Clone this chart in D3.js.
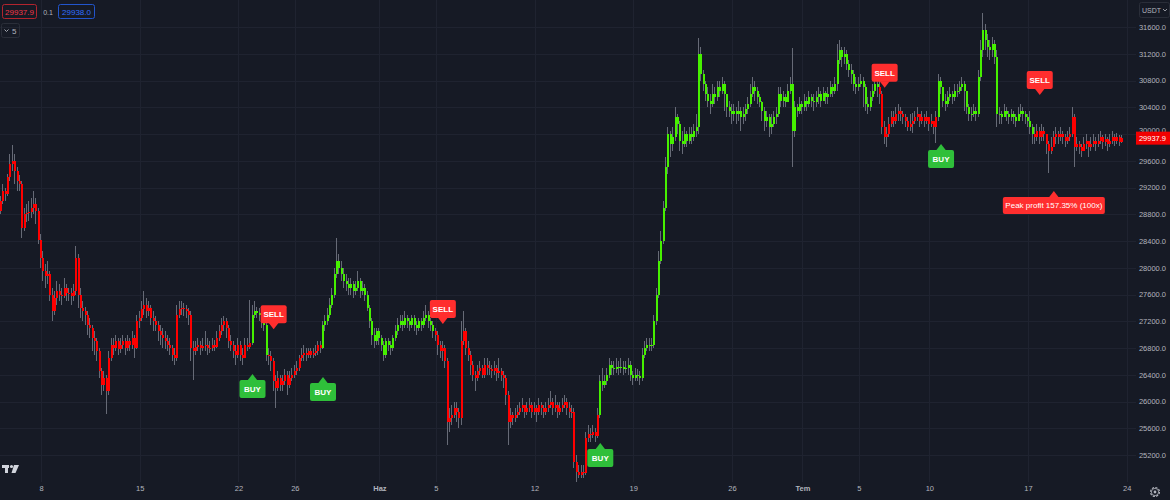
<!DOCTYPE html>
<html><head><meta charset="utf-8">
<script src="https://cdn.jsdelivr.net/npm/d3@7/dist/d3.min.js"></script>
<style>
html,body{margin:0;padding:0;background:#161a25;}
svg{display:block;}
text{font-family:"Liberation Sans","DejaVu Sans",sans-serif;}
</style></head>
<body><svg id="c" width="1170" height="500"></svg>
<script>
// ---------------- DATA (BTC/USDT, 4h candles, first candle 2023-05-05 04:00 UTC) ----------------
const firstOpen = 28850;
const close = [
// May 5
29000,29150,29100,29350,29550,
// May 6
29600,29450,29300,29250,28600,28800,
// May 7
28820,28830,28900,28950,28850,28420,
// May 8
28150,27950,27880,27900,27600,27350,
// May 9
27550,27650,27600,27580,27700,27620,
// May 10
27620,27580,27650,28150,27600,27400,
// May 11
27350,27300,27150,27100,26950,26900,
// May 12
26750,26450,26250,26350,26150,26650,
// May 13
26850,26800,26900,26780,26850,26900,
// May 14
26800,26900,26850,26950,26800,27200,
// May 15
27250,27380,27450,27350,27400,27250,
// May 16
27200,27150,27050,27000,26950,26900,
// May 17
26850,26800,26700,26650,27300,27380,
// May 18
27400,27380,27350,27300,26800,26750,
// May 19
26820,26850,26800,26830,26850,26800,
// May 20
26800,26850,26820,26950,27050,27150,
// May 21
27200,27100,26900,26850,26750,26700,
// May 22
26850,26700,26650,26850,26820,26880,
// May 23
27300,27350,27320,27300,27200,27150,
// May 24
26700,26680,26600,26300,26200,26350,
// May 25
26250,26300,26400,26250,26350,26400,
// May 26
26450,26500,26650,26700,26720,26700,
// May 27
26750,26700,26720,26750,26850,26800,
// May 28
27150,27200,27300,27450,27600,27900,
// May 29
28100,28000,27900,27800,27750,27700,
// May 30
27750,27650,27700,27800,27650,27700,
// May 31
27600,27400,27200,27000,26900,27050,
// Jun 1
26950,26850,26700,26900,26850,26800,
// Jun 2
26950,27050,27150,27200,27150,27250,
// Jun 3
27200,27150,27250,27150,27100,27200,
// Jun 4
27150,27250,27300,27200,27150,27050,
// Jun 5
27000,26850,26750,26800,26600,25700,
// Jun 6
25750,25800,25900,25850,25750,26900,
// Jun 7
27050,26800,26700,26550,26400,26350,
// Jun 8
26450,26500,26400,26550,26500,26480,
// Jun 9
26450,26500,26420,26450,26400,26350,
// Jun 10
26100,25700,25800,25750,25800,25850,
// Jun 11
25900,25950,25850,25900,25950,25850,
// Jun 12
25900,25850,25950,25900,25850,25900,
// Jun 13
25950,26000,25900,25950,25850,25900,
// Jun 14
25950,26000,25900,25850,25850,25100,
// Jun 15
24950,24900,24950,24930,25450,25520,
// Jun 16
25500,25550,25480,25800,26300,26250,
// Jun 17
26300,26400,26550,26500,26480,26520,
// Jun 18
26500,26520,26480,26500,26550,26400,
// Jun 19
26350,26400,26380,26350,26700,26800,
// Jun 20
26850,26830,26850,27200,27600,28100,
// Jun 21
28400,28900,29500,30000,29850,29950,
// Jun 22
30250,30150,29900,29850,30000,29900,
// Jun 23
30000,29950,30050,30100,31200,30900,
// Jun 24
30750,30600,30500,30450,30600,30550,
// Jun 25
30700,30650,30750,30600,30400,30350,
// Jun 26
30300,30350,30300,30350,30250,30300,
// Jun 27
30380,30450,30600,30700,30650,30550,
// Jun 28
30480,30350,30200,30250,30100,30150,
// Jun 29
30250,30300,30600,30500,30550,30480,
// Jun 30
30650,30750,30050,30400,30350,30450,
// Jul 1
30400,30500,30450,30550,30500,30480,
// Jul 2
30550,30600,30500,30620,30550,30600,
// Jul 3
30700,30650,30750,31100,31250,31150,
// Jul 4
31200,31050,30950,30900,30750,30700,
// Jul 5
30750,30800,30700,30450,30400,30550,
// Jul 6
30650,30750,30700,30600,30100,29950,
// Jul 7
30000,30150,30250,30200,30300,30350,
// Jul 8
30300,30250,30200,30100,30150,30200,
// Jul 9
30250,30300,30200,30250,30200,30250,
// Jul 10
30150,30200,30100,30250,30800,30700,
// Jul 11
30500,30450,30550,30600,30550,30650,
// Jul 12
30650,30700,30750,30650,30400,30300,
// Jul 13
30300,30350,30300,30850,31250,31550,
// Jul 14
31400,31300,31250,31350,31150,30300,
// Jul 15
30300,30250,30350,30300,30250,30300,
// Jul 16
30250,30200,30300,30350,30300,30250,
// Jul 17
30200,30100,30000,29950,30050,29950,
// Jul 18
30050,30000,29850,29750,29800,29950,
// Jul 19
30000,29950,30000,29950,29900,29950,
// Jul 20
30000,30250,29800,29850,29800,29750,
// Jul 21
29850,29900,29800,29850,29900,29850,
// Jul 22
29900,29950,29880,29920,29850,29900,
// Jul 23
29950,29900,29950,29880,29937.9
];
const high = [
29080,29250,29200,29400,29700,
29840,29700,29500,29380,29300,28900,
28950,29000,29050,29150,29050,28900,
28500,28250,28050,28100,27950,27700,
27650,27800,27750,27700,27850,27750,
27700,27700,27750,28320,28200,27700,
27500,27420,27350,27250,27150,27050,
26950,26800,26500,26450,26400,26750,
26950,26950,27000,26950,26950,27000,
26950,27000,26950,27050,27000,27300,
27350,27500,27650,27550,27500,27450,
27350,27280,27200,27150,27100,27050,
27000,26950,26850,26800,27450,27500,
27500,27480,27450,27400,27350,26900,
26900,26950,26900,26950,27050,26950,
26900,26950,26920,27050,27150,27250,
27280,27250,27150,27000,26900,26850,
26950,26900,26800,26950,26950,27520,
27450,27500,27420,27400,27350,27300,
27200,26800,26750,26650,26400,26450,
26400,26400,26480,26450,26450,26500,
26550,26600,26700,26800,26850,26800,
26800,26800,26800,26850,26900,26900,
27200,27300,27400,27550,27700,28000,
28450,28200,28100,28000,27900,27850,
27850,27800,27800,27950,27850,27800,
27750,27650,27450,27250,27100,27100,
27100,27000,26900,26950,26950,26900,
27000,27150,27250,27300,27300,27350,
27300,27250,27300,27300,27200,27250,
27250,27350,27450,27350,27250,27200,
27100,27050,26900,26900,26850,26650,
25900,25950,26000,26000,25900,27200,
27350,27100,26900,26750,26600,26450,
26550,26600,26550,26650,26650,26600,
26550,26600,26550,26650,26500,26450,
26400,26150,25900,25850,25900,25950,
26000,26050,25950,26000,26050,26000,
26000,25950,26050,26000,25950,26000,
26050,26150,26050,26100,26000,26000,
26050,26100,26050,26000,25950,25900,
25200,25050,25050,25050,25550,25650,
25600,25650,25600,25900,26400,26500,
26400,26500,26650,26600,26600,26650,
26600,26650,26600,26600,26650,26600,
26450,26500,26480,26450,26800,26900,
26950,26950,26950,27300,27700,28250,
28550,29000,29650,30100,30050,30100,
30400,30300,30200,30050,30100,30050,
30100,30100,30150,30300,31430,31300,
30950,30800,30700,30600,30750,30700,
30800,30800,30850,30800,30600,30500,
30450,30450,30400,30500,30400,30400,
30450,30550,30750,30850,30800,30700,
30600,30500,30400,30350,30300,30300,
30350,30400,30700,30700,30650,30600,
30750,30850,31280,30500,30450,30550,
30500,30600,30550,30650,30600,30600,
30650,30700,30650,30700,30650,30700,
30800,30750,30850,31350,31400,31300,
31300,31250,31100,31050,30950,30850,
30850,30900,30850,30750,30550,30650,
30750,30850,30850,30800,30650,30200,
30100,30250,30350,30350,30400,30450,
30400,30350,30300,30250,30300,30320,
30350,30400,30300,30350,30300,30350,
30250,30300,30200,30350,30900,30850,
30650,30600,30650,30700,30650,30750,
30750,30800,30850,30800,30650,30450,
30400,30450,30400,30950,31400,31810,
31650,31500,31400,31450,31400,31250,
30400,30350,30450,30400,30350,30380,
30350,30300,30400,30450,30400,30350,
30300,30350,30150,30100,30150,30100,
30150,30100,29950,29900,29950,30050,
30100,30050,30100,30050,30000,30050,
30100,30400,30300,29950,29900,29850,
29950,30000,29900,29950,30000,29950,
30000,30050,29980,30000,29950,30000,
30050,30000,30020,29980,29990
];
const low = [
28800,28950,29000,29080,29300,
29450,29250,29150,29150,28450,28550,
28680,28700,28750,28800,28650,28350,
28000,27800,27700,27750,27500,27200,
27300,27450,27500,27450,27550,27500,
27500,27450,27500,27600,27400,27250,
27200,27150,27000,26950,26750,26700,
26600,26350,26100,26150,25820,26100,
26600,26700,26750,26700,26720,26780,
26700,26750,26750,26780,26650,26780,
27100,27200,27300,27250,27280,27150,
27050,27050,26900,26850,26800,26780,
26750,26700,26600,26550,26600,27250,
27300,27280,27250,27150,26600,26320,
26700,26750,26700,26750,26750,26700,
26720,26750,26750,26800,26900,27000,
27050,26950,26800,26750,26650,26550,
26650,26600,26550,26650,26750,26780,
26850,27250,27250,27200,27100,27050,
26600,26550,26450,26150,25900,26150,
26150,26150,26250,26100,26200,26300,
26350,26400,26450,26600,26600,26600,
26650,26650,26650,26680,26700,26720,
26780,27050,27150,27250,27400,27550,
27850,27900,27800,27700,27650,27600,
27600,27550,27600,27650,27550,27600,
27500,27350,27100,26850,26800,26850,
26850,26750,26600,26650,26750,26700,
26750,26900,27000,27100,27050,27100,
27100,27050,27100,27050,27000,27050,
27050,27100,27200,27100,27050,26950,
26900,26700,26650,26600,26500,25350,
25550,25650,25750,25700,25600,25650,
26850,26700,26600,26400,26300,26150,
26300,26400,26350,26350,26400,26400,
26350,26400,26300,26350,26300,26200,
25950,25350,25600,25650,25700,25750,
25800,25850,25750,25800,25850,25750,
25800,25700,25800,25800,25750,25800,
25850,25900,25800,25850,25750,25800,
25850,25900,25800,25750,25750,25000,
24800,24850,24850,24850,24900,25400,
25400,25450,25400,25450,25750,26150,
26200,26250,26350,26400,26400,26420,
26400,26420,26400,26420,26400,26300,
26250,26300,26300,26250,26300,26650,
26750,26750,26750,26800,27150,27550,
28050,28350,28850,29400,29650,29750,
29900,30000,29750,29700,29800,29800,
29850,29850,29900,29950,30000,30800,
30650,30500,30400,30300,30400,30450,
30500,30550,30600,30350,30250,30250,
30150,30200,30150,30200,30050,30150,
30200,30300,30400,30550,30500,30450,
30400,30200,30050,30100,29950,30000,
30100,30150,30250,30400,30400,30400,
30500,30600,29500,29950,30250,30300,
30300,30350,30350,30400,30400,30350,
30400,30450,30400,30500,30450,30450,
30550,30550,30600,30650,31050,31000,
31050,30950,30850,30750,30650,30600,
30650,30700,30400,30350,30300,30350,
30500,30600,30550,30450,30000,29850,
29800,29950,30100,30100,30150,30200,
30200,30150,30100,30050,30050,30020,
30150,30200,30100,30150,30100,30150,
30050,30100,30000,29870,30200,30600,
30400,30350,30400,30500,30450,30500,
30550,30600,30650,30350,30300,30200,
30200,30250,30200,30250,30800,31150,
31250,31150,31100,31150,31050,30100,
30150,30150,30250,30200,30150,30200,
30150,30100,30200,30250,30200,30150,
30100,30000,29850,29850,29900,29850,
29900,29900,29700,29420,29700,29850,
29850,29850,29900,29850,29800,29850,
29900,29950,29500,29750,29700,29650,
29750,29780,29650,29750,29800,29750,
29800,29850,29780,29820,29750,29800,
29850,29820,29850,29820,29860
];
// trend colour flips (first candle of each new trend)
const flipDates = ["2023-05-23T00:00Z","2023-05-24T04:00Z","2023-05-28T00:00Z","2023-06-05T00:00Z","2023-06-16T16:00Z","2023-07-06T12:00Z","2023-07-10T16:00Z","2023-07-17T12:00Z"];
const flipDirs  = ["up","down","up","down","up","down","up","down"];
// signal labels
const sigTypes  = ["BUY","SELL","BUY","SELL","BUY","SELL","BUY","SELL"];
const sigDates  = ["2023-05-23T00:00Z","2023-05-24T12:00Z","2023-05-28T00:00Z","2023-06-05T12:00Z","2023-06-16T16:00Z","2023-07-06T20:00Z","2023-07-10T20:00Z","2023-07-17T20:00Z"];
const sigPrices = [26410,27080,26366,27160,25380,30690,29850,30583];
const peakText = "Peak profit 157.35% (100x)";
const peakDate = "2023-07-18T20:00Z";
const peakPrice = 29148;
// axes
const yTicks = [25200,25600,26000,26400,26800,27200,27600,28000,28400,28800,29200,29600,30000,30400,30800,31200,31600];
const xTickDates = ["2023-05-08","2023-05-15","2023-05-22","2023-05-26","2023-06-01","2023-06-05","2023-06-12","2023-06-19","2023-06-26","2023-07-01","2023-07-05","2023-07-10","2023-07-17","2023-07-24"];
const xTickLabels = ["8","15","22","26","Haz","5","12","19","26","Tem","5","10","17","24"];
const lastPrice = 29937.9;
const legendBid = "29937.9", legendSpread = "0.1", legendAsk = "29938.0";
const startTime = Date.UTC(2023,4,5,4);
const stepMs = 4*3600*1000;

// ---------------- CHART ----------------
const W = 1170, H = 500;
const svg = d3.select("#c");
const BG = "#161a25", GRID = "#1f2330", TXT = "#b2b5be";
const GREEN = "#46f000", RED = "#ff0000", WICK = "#666a76";

svg.append("rect").attr("width",W).attr("height",H).attr("fill",BG);

const x = d3.scaleUtc()
  .domain([new Date(Date.UTC(2023,4,5)), new Date(Date.UTC(2023,6,24))])
  .range([-1.3, 1126.7]);
const y = d3.scaleLinear().domain([25200,31600]).range([455,27]);

const plotRight = 1136, plotBottom = 482;

// grid
const grid = svg.append("g").attr("shape-rendering","crispEdges");
grid.selectAll("line.h").data(yTicks).enter().append("line")
  .attr("x1",0).attr("x2",plotRight)
  .attr("y1",d=>Math.round(y(d))+0.5).attr("y2",d=>Math.round(y(d))+0.5)
  .attr("stroke",GRID).attr("stroke-width",1);
const xTickD = xTickDates.map(s=>new Date(s+"T00:00Z"));
grid.selectAll("line.v").data(xTickD).enter().append("line")
  .attr("y1",0).attr("y2",plotBottom)
  .attr("x1",d=>Math.round(x(d))+0.5).attr("x2",d=>Math.round(x(d))+0.5)
  .attr("stroke",GRID).attr("stroke-width",1);

// candles
const flipT = flipDates.map(s=>+new Date(s));
const candles = close.map((c,i)=>{
  const t = startTime + i*stepMs;
  const o = i===0 ? firstOpen : close[i-1];
  let dir = "down";
  flipT.forEach((ft,k)=>{ if (t>=ft) dir = flipDirs[k]; });
  return {t:new Date(t), o, c, h:Math.max(high[i],o,c), l:Math.min(low[i],o,c), dir};
});
const cg = svg.append("g").attr("shape-rendering","crispEdges");
cg.selectAll("rect.w").data(candles).enter().append("rect")
  .attr("x",d=>Math.round(x(d.t))-1)
  .attr("width",1)
  .attr("y",d=>Math.round(y(d.h)))
  .attr("height",d=>Math.max(1,Math.round(y(d.l))-Math.round(y(d.h))))
  .attr("fill",WICK);
cg.selectAll("rect.b").data(candles).enter().append("rect")
  .attr("x",d=>Math.round(x(d.t))-1)
  .attr("width",2)
  .attr("y",d=>Math.round(y(Math.max(d.o,d.c))))
  .attr("height",d=>Math.max(1,Math.round(y(Math.min(d.o,d.c)))-Math.round(y(Math.max(d.o,d.c)))))
  .attr("fill",d=>d.dir==="up"?GREEN:RED);

// signal labels
const LBUY = "#2fbf3a", LSELL = "#ff2e2e";
const sg = svg.append("g");
sigTypes.forEach((tp,i)=>{
  const cx = x(new Date(sigDates[i])), ty = y(sigPrices[i]);
  const w = 26, h = 18, ah = 6, aw = 5;
  const col = tp==="BUY"?LBUY:LSELL;
  const g = sg.append("g");
  if (tp==="BUY") {
    const top = ty+ah;
    g.append("path").attr("d",`M${cx-aw},${top+0.5} L${cx},${ty} L${cx+aw},${top+0.5} Z`).attr("fill",col);
    g.append("rect").attr("x",cx-w/2).attr("y",top).attr("width",w).attr("height",h).attr("rx",2).attr("fill",col);
    g.append("text").attr("x",cx).attr("y",top+h/2+3).attr("text-anchor","middle")
      .attr("fill","#fff").attr("font-size",8).attr("font-weight","bold").text(tp);
  } else {
    const bot = ty-ah;
    g.append("path").attr("d",`M${cx-aw},${bot-0.5} L${cx},${ty} L${cx+aw},${bot-0.5} Z`).attr("fill",col);
    g.append("rect").attr("x",cx-w/2).attr("y",bot-h).attr("width",w).attr("height",h).attr("rx",2).attr("fill",col);
    g.append("text").attr("x",cx).attr("y",bot-h/2+3).attr("text-anchor","middle")
      .attr("fill","#fff").attr("font-size",8).attr("font-weight","bold").text(tp);
  }
});
// peak profit label
{
  const cx = x(new Date(peakDate)), ty = y(peakPrice);
  const w = 102, h = 17, ah = 6, aw = 5;
  const g = sg.append("g");
  g.append("path").attr("d",`M${cx-aw},${ty+ah+0.5} L${cx},${ty} L${cx+aw},${ty+ah+0.5} Z`).attr("fill",LSELL);
  g.append("rect").attr("x",cx-w/2).attr("y",ty+ah).attr("width",w).attr("height",h).attr("rx",2).attr("fill",LSELL);
  g.append("text").attr("x",cx).attr("y",ty+ah+h/2+3).attr("text-anchor","middle")
    .attr("fill","#fff").attr("font-size",8).text(peakText);
}

// y axis (right)
const yAxis = d3.axisRight(y).tickValues(yTicks).tickFormat(d=>d3.format(".1f")(d)).tickSize(0).tickPadding(0);
const ya = svg.append("g").attr("transform","translate(1166,0)").call(yAxis);
ya.select(".domain").remove();
ya.selectAll("text").attr("text-anchor","end").attr("fill",TXT).attr("font-size",7.5)
  .attr("font-family","Liberation Sans, DejaVu Sans, sans-serif")
  .attr("dy", d => d===30000 ? "-0.2em" : "0.32em");

// x axis (bottom)
const xAxis = d3.axisBottom(x).tickValues(xTickD).tickFormat((d,i)=>xTickLabels[i]).tickSize(0).tickPadding(0);
const xa = svg.append("g").attr("transform","translate(0,486)").call(xAxis);
xa.select(".domain").remove();
xa.selectAll("text").attr("fill",TXT).attr("font-size",7.5)
  .attr("font-family","Liberation Sans, DejaVu Sans, sans-serif")
  .attr("font-weight",(d,i)=> (xTickLabels[i]==="Haz"||xTickLabels[i]==="Tem")?"bold":"normal");

// last price tag
{
  const py = y(lastPrice);
  svg.append("rect").attr("x",1136).attr("y",py-6.5).attr("width",34).attr("height",13).attr("fill","#f20000");
  svg.append("text").attr("x",1166).attr("y",py+3).attr("text-anchor","end").attr("fill","#fff")
    .attr("font-size",7.5).text(d3.format(".1f")(lastPrice));
}

// USDT button
{
  const g = svg.append("g");
  g.append("rect").attr("x",1139.5).attr("y",2.5).attr("width",30).attr("height",15).attr("rx",2)
    .attr("fill",BG).attr("stroke","#2a2e39");
  g.append("text").attr("x",1142).attr("y",13).attr("fill",TXT).attr("font-size",7).text("USDT");
  g.append("path").attr("d","M1163,9 L1165,11 L1167,9").attr("fill","none").attr("stroke",TXT).attr("stroke-width",0.8);
}

// top-left legend
{
  const g = svg.append("g");
  g.append("rect").attr("x",2.5).attr("y",4.5).attr("width",34).attr("height",14).attr("rx",2)
    .attr("fill","none").attr("stroke","#b2242e");
  g.append("text").attr("x",19.5).attr("y",14.5).attr("text-anchor","middle").attr("fill","#f23645").attr("font-size",8).text(legendBid);
  g.append("text").attr("x",48).attr("y",14.5).attr("text-anchor","middle").attr("fill","#b2b5be").attr("font-size",7).text(legendSpread);
  g.append("rect").attr("x",58.5).attr("y",4.5).attr("width",36).attr("height",14).attr("rx",2)
    .attr("fill","none").attr("stroke","#2255cc");
  g.append("text").attr("x",76.5).attr("y",14.5).attr("text-anchor","middle").attr("fill","#2f6fff").attr("font-size",8).text(legendAsk);
  g.append("rect").attr("x",1.5).attr("y",23.5).attr("width",18).attr("height",14).attr("rx",2)
    .attr("fill","none").attr("stroke","#2a2e39");
  g.append("path").attr("d","M4.5,29.5 L6.5,31.5 L8.5,29.5").attr("fill","none").attr("stroke",TXT).attr("stroke-width",0.9);
  g.append("text").attr("x",12).attr("y",33.5).attr("fill",TXT).attr("font-size",8).text("5");
}

// TradingView logo
{
  const g = svg.append("g").attr("fill","#d1d4dc");
  g.append("rect").attr("x",2).attr("y",465).attr("width",7).attr("height",3);
  g.append("rect").attr("x",5).attr("y",465).attr("width",3).attr("height",8);
  g.append("circle").attr("cx",11.5).attr("cy",466.5).attr("r",1.6);
  g.append("path").attr("d","M14,465 L19,465 L15.5,473 L11.5,473 Z");
}
// settings gear
{
  const g = svg.append("g");
  g.append("circle").attr("cx",1155).attr("cy",492).attr("r",4.5).attr("fill","none").attr("stroke",TXT).attr("stroke-width",1.1).attr("stroke-dasharray","2.2 1.3");
  g.append("circle").attr("cx",1155).attr("cy",492).attr("r",3.6).attr("fill","none").attr("stroke",TXT).attr("stroke-width",0.8);
  g.append("circle").attr("cx",1155).attr("cy",492).attr("r",1.4).attr("fill",TXT);
}
</script>
</body></html>
